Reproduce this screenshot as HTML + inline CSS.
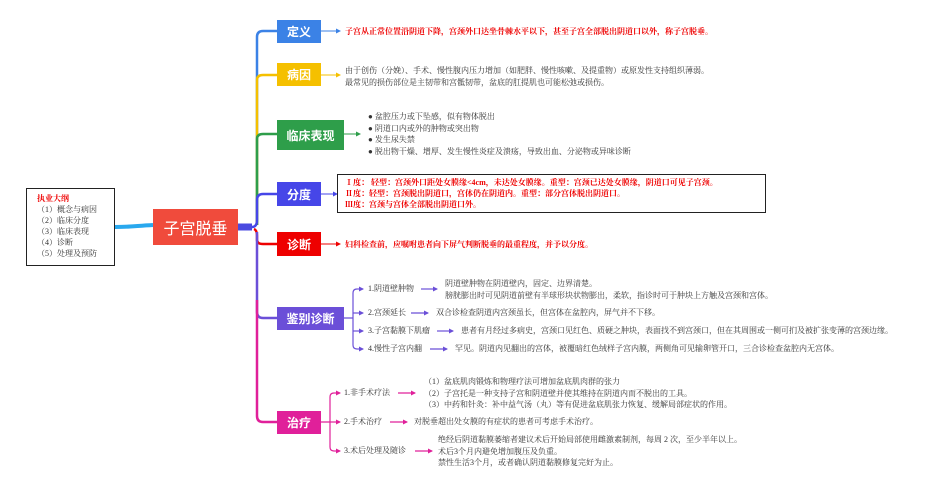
<!DOCTYPE html>
<html><head><meta charset="utf-8"><style>
*{margin:0;padding:0;box-sizing:border-box}
body{width:950px;height:490px;background:#fff;position:relative;overflow:hidden;font-family:"Liberation Serif","Noto Serif CJK SC","Noto Sans CJK SC",serif;color:#333}
.a{position:absolute;white-space:nowrap}
.b{position:absolute;color:#fff;font-weight:bold;font-size:12px;display:flex;align-items:center;justify-content:center;font-family:"Liberation Sans","Noto Sans CJK SC",sans-serif}
.t{font-size:8px;line-height:11.5px}
.r{color:#e00;font-weight:bold;font-size:8px}
</style></head><body>
<svg class="a" style="left:0;top:0" width="950" height="490">
<defs>
<marker id="mb" markerWidth="5" markerHeight="5" refX="4" refY="2.5" orient="auto" markerUnits="userSpaceOnUse"><path d="M0,0 L5,2.5 L0,5z" fill="#3b82e6"/></marker>
<marker id="my" markerWidth="5" markerHeight="5" refX="4" refY="2.5" orient="auto" markerUnits="userSpaceOnUse"><path d="M0,0 L5,2.5 L0,5z" fill="#f5c000"/></marker>
<marker id="mg" markerWidth="5" markerHeight="5" refX="4" refY="2.5" orient="auto" markerUnits="userSpaceOnUse"><path d="M0,0 L5,2.5 L0,5z" fill="#2e9e4a"/></marker>
<marker id="mi" markerWidth="5" markerHeight="5" refX="4" refY="2.5" orient="auto" markerUnits="userSpaceOnUse"><path d="M0,0 L5,2.5 L0,5z" fill="#4646e8"/></marker>
<marker id="mr" markerWidth="5" markerHeight="5" refX="4" refY="2.5" orient="auto" markerUnits="userSpaceOnUse"><path d="M0,0 L5,2.5 L0,5z" fill="#e00"/></marker>
<marker id="mp" markerWidth="5" markerHeight="5" refX="4" refY="2.5" orient="auto" markerUnits="userSpaceOnUse"><path d="M0,0 L5,2.5 L0,5z" fill="#6b4fd8"/></marker>
<marker id="mm" markerWidth="5" markerHeight="5" refX="4" refY="2.5" orient="auto" markerUnits="userSpaceOnUse"><path d="M0,0 L5,2.5 L0,5z" fill="#e0209a"/></marker>
</defs>
<path d="M115,227 C130,227 135,226 153,225" stroke="#29a8ee" stroke-width="4" fill="none"/>
<path d="M238,227 L252,227" stroke="#4a4ae0" stroke-width="7" fill="none"/>
<g fill="none" stroke-width="2.5">
<path d="M257,225 L257,37 Q257,31 263,31 L277,31" stroke="#3b82e6"/>
<path d="M257,225 L257,80 Q257,75 263,75 L277,75" stroke="#f5c000"/>
<path d="M257,225 L257,139 Q257,134 263,134 L277,134" stroke="#2e9e4a"/>
<path d="M252,227 Q257,227 257,220 L257,200 Q257,194 263,194 L277,194" stroke="#4646e8"/>
<path d="M254,229 Q257,230 257,236 L257,240 Q257,244 263,244 L277,244" stroke="#e00"/>
<path d="M257,232 L257,312 Q257,318 263,318 L277,318" stroke="#6b4fd8"/>
<path d="M257,300 L257,416 Q257,422 263,422 L277,422" stroke="#e0209a"/>
</g>
<g fill="none" stroke-width="1">
<path d="M321,31 L340,31" stroke="#3b82e6" marker-end="url(#mb)"/>
<path d="M321,75 L340,75" stroke="#f5c000" marker-end="url(#my)"/>
<path d="M344,134 L360,134" stroke="#2e9e4a" marker-end="url(#mg)"/>
<path d="M321,194 L337,194" stroke="#4646e8" marker-end="url(#mi)"/>
<path d="M321,244 L340,244" stroke="#e00" marker-end="url(#mr)"/>
</g>
<g fill="none" stroke="#6b4fd8" stroke-width="1.2">
<path d="M344,318 L353,318 M353,293 Q353,289 357,289 M353,345 Q353,349 357,349 M353,293 L353,345"/>
<g marker-end="url(#mp)">
<path d="M357,289 L363,289"/><path d="M357,349 L363,349"/><path d="M353,313 L363,313"/><path d="M353,331 L363,331"/>
<path d="M421,289 L437,289"/><path d="M411,313 L428,313"/><path d="M437,331 L453,331"/><path d="M430,349 L447,349"/>
</g>
</g>
<g fill="none" stroke="#e0209a" stroke-width="1.2">
<path d="M321,422 L330,422 M330,397 Q330,393 334,393 M330,447 Q330,451 334,451 M330,397 L330,447"/>
<g marker-end="url(#mm)">
<path d="M334,393 L340,393"/><path d="M330,422 L340,422"/><path d="M334,451 L340,451"/>
<path d="M398,393 L415,393"/><path d="M390,422 L407,422"/><path d="M415,451 L432,451"/>
</g>
</g>
</svg>
<div class="a" style="left:26px;top:188px;width:89px;height:78px;border:1.5px solid #222"></div>
<div class="a t" style="left:37px;top:193px;line-height:11px"><span style="color:#e00;font-weight:bold">执业大纲</span><br>（1）概念与病因<br>（2）临床分度<br>（3）临床表现<br>（4）诊断<br>（5）处理及预防</div>
<div class="b" style="left:153px;top:209px;width:85px;height:36px;background:#f04b3c;font-size:16px;font-weight:normal">子宫脱垂</div>
<div class="b" style="left:277px;top:20px;width:44px;height:23px;background:#3b82e6">定义</div>
<div class="b" style="left:277px;top:63px;width:44px;height:23px;background:#f5c000">病因</div>
<div class="b" style="left:277px;top:120px;width:67px;height:30px;background:#2e9e4a">临床表现</div>
<div class="b" style="left:277px;top:182px;width:44px;height:24px;background:#4646e8">分度</div>
<div class="b" style="left:277px;top:232px;width:44px;height:24px;background:#e00">诊断</div>
<div class="b" style="left:277px;top:307px;width:67px;height:23px;background:#6b4fd8">鉴别诊断</div>
<div class="b" style="left:277px;top:411px;width:44px;height:23px;background:#e0209a">治疗</div>
<div class="a r" style="left:345px;top:26px">子宫从正常位置沿阴道下降，宫颈外口达坐骨棘水平以下，甚至子宫全部脱出阴道口以外，称子宫脱垂。</div>
<div class="a t" style="left:345px;top:65px">由于创伤（分娩）、手术、慢性腹内压力增加（如肥胖、慢性咳嗽、及提重物）或原发性支持组织薄弱。<br>最常见的损伤部位是主韧带和宫骶韧带，盆底的肛提肌也可能松弛或损伤。</div>
<div class="a t" style="left:368px;top:111px">● 盆腔压力或下坠感，似有物体脱出<br>● 阴道口内或外的肿物或突出物<br>● 发生尿失禁<br>● 脱出物干燥、增厚、发生慢性炎症及溃疡，导致出血、分泌物或异味诊断</div>
<div class="a" style="left:337px;top:174px;width:429px;height:39px;border:1.5px solid #222"></div>
<div class="a r" style="left:345px;top:177px;line-height:11px">Ⅰ度： 轻型：宫颈外口距处女膜缘&lt;4cm，未达处女膜缘。重型：宫颈已达处女膜缘，阴道口可见子宫颈。<br>Ⅱ度：轻型：宫颈脱出阴道口，宫体仍在阴道内。重型：部分宫体脱出阴道口。<br>Ⅲ度：宫颈与宫体全部脱出阴道口外。</div>
<div class="a r" style="left:345px;top:239px">妇科检查前，应嘱咐患者向下屏气判断脱垂的最重程度，并予以分度。</div>
<div class="a t" style="left:368px;top:283px">1.阴道壁肿物</div>
<div class="a t" style="left:445px;top:278px">阴道壁肿物在阴道壁内，固定、边界清楚。<br>膀胱膨出时可见阴道前壁有半球形块状物膨出，柔软，指诊时可于肿块上方触及宫颈和宫体。</div>
<div class="a t" style="left:368px;top:307px">2.宫颈延长</div>
<div class="a t" style="left:436px;top:307px">双合诊检查阴道内宫颈虽长，但宫体在盆腔内，屏气并不下移。</div>
<div class="a t" style="left:368px;top:325px">3.子宫黏膜下肌瘤</div>
<div class="a t" style="left:461px;top:325px">患者有月经过多病史，宫颈口见红色、质硬之肿块，表面找不到宫颈口，但在其周围或一侧可扪及被扩张变薄的宫颈边缘。</div>
<div class="a t" style="left:368px;top:343px">4.慢性子宫内翻</div>
<div class="a t" style="left:455px;top:343px">罕见。阴道内见翻出的宫体，被覆暗红色绒样子宫内膜，两侧角可见输卵管开口，三合诊检查盆腔内无宫体。</div>
<div class="a t" style="left:344px;top:387px">1.非手术疗法</div>
<div class="a t" style="left:424px;top:376px">（1）盆底肌肉锻炼和物理疗法可增加盆底肌肉群的张力<br>（2）子宫托是一种支持子宫和阴道壁并使其维持在阴道内而不脱出的工具。<br>（3）中药和针灸：补中益气汤（丸）等有促进盆底肌张力恢复、缓解局部症状的作用。</div>
<div class="a t" style="left:344px;top:416px">2.手术治疗</div>
<div class="a t" style="left:414px;top:416px">对脱垂超出处女膜的有症状的患者可考虑手术治疗。</div>
<div class="a t" style="left:344px;top:445px">3.术后处理及随诊</div>
<div class="a t" style="left:438px;top:434px">绝经后阴道黏膜萎缩者建议术后开始局部使用雌激素制剂，每周 2 次，至少半年以上。<br>术后3个月内避免增加腹压及负重。<br>禁性生活3个月，或者确认阴道黏膜修复完好为止。</div>
</body></html>
